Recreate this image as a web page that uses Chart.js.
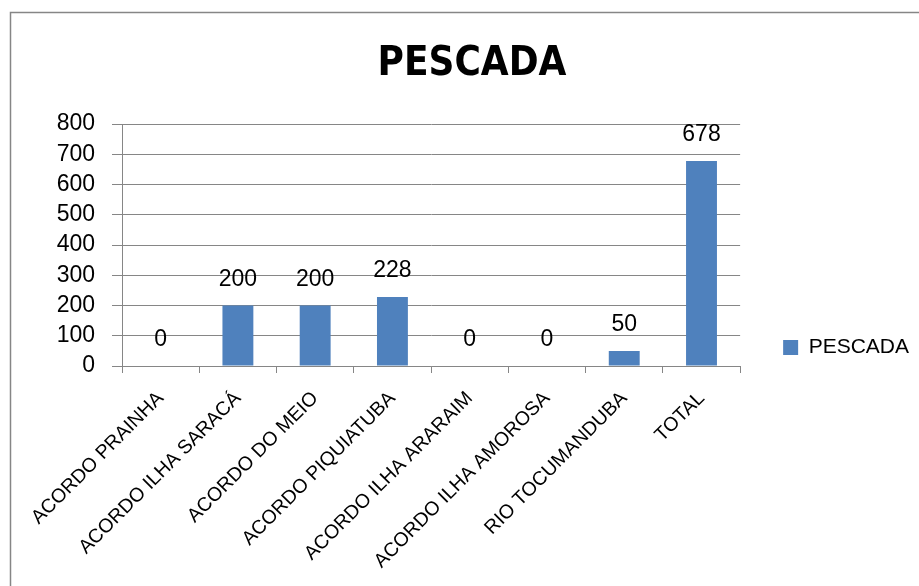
<!DOCTYPE html>
<html>
<head>
<meta charset="utf-8">
<script src="https://cdn.jsdelivr.net/npm/chart.js@4"></script>
<style>
  html, body { margin: 0; padding: 0; background: #fff; overflow: hidden; }
  #wrap { width: 919px; height: 586px; }
</style>
</head>
<body>
<div id="wrap"><canvas id="chart" width="919" height="586"></canvas></div>
<script>
// data
const categories = [
    "ACORDO PRAINHA",
    "ACORDO ILHA SARACÁ",
    "ACORDO DO MEIO",
    "ACORDO PIQUIATUBA",
    "ACORDO ILHA ARARAIM",
    "ACORDO ILHA AMOROSA",
    "RIO TOCUMANDUBA",
    "TOTAL"
];
const pescada = [0, 200, 200, 228, 0, 0, 50, 678];
const seriesName = "PESCADA";
const yTicks = [0, 100, 200, 300, 400, 500, 600, 700, 800];

const gridGray = "#868686";
const barBlue = "#4F81BD";
const font = "'Liberation Sans', Arial, sans-serif";

// outer frame like the excel chart border
const framePlugin = {
    id: "frame",
    beforeDraw(chart) {
        const ctx = chart.ctx;
        ctx.save();
        ctx.fillStyle = "#fff";
        ctx.fillRect(0, 0, chart.width, chart.height);
        ctx.strokeStyle = gridGray;
        ctx.lineWidth = 1.5;
        ctx.strokeRect(10.5, 12.5, chart.width + 20, chart.height + 20);
        ctx.restore();
    }
};

// value labels above the bars
const valueLabels = {
    id: "valueLabels",
    afterDatasetsDraw(chart) {
        const ctx = chart.ctx;
        const meta = chart.getDatasetMeta(0);
        ctx.save();
        ctx.font = "23px " + font;
        ctx.fillStyle = "#000";
        ctx.textAlign = "center";
        ctx.textBaseline = "middle";
        meta.data.forEach((bar, i) => {
            ctx.fillText(String(pescada[i]), bar.x, bar.y - 26);
        });
        ctx.restore();
    }
};

new Chart(document.getElementById("chart"), {
    type: "bar",
    data: {
        labels: categories,
        datasets: [{
            label: seriesName,
            data: pescada,
            backgroundColor: barBlue,
            borderWidth: 0,
            barPercentage: 0.4,
            categoryPercentage: 1.0
        }]
    },
    options: {
        responsive: false,
        animation: false,
        layout: { padding: { left: 25, right: 0, top: 0, bottom: 0 } },
        plugins: {
            title: {
                display: true,
                text: "PESCADA",
                color: "#000",
                font: { family: "'DejaVu Sans Condensed', " + font, size: 40, weight: "bold", lineHeight: 1.2 },
                padding: { top: 41, bottom: 35 }
            },
            legend: {
                position: "right",
                align: "end",
                fullSize: false,
                labels: {
                    color: "#000",
                    font: { family: font, size: 21 },
                    boxWidth: 15,
                    boxHeight: 15,
                    padding: 8
                }
            },
            tooltip: { enabled: false }
        },
        scales: {
            x: {
                grid: {
                    drawOnChartArea: false,
                    drawTicks: true,
                    tickLength: 7,
                    color: gridGray,
                    offset: true
                },
                border: { color: gridGray, width: 1 },
                ticks: {
                    color: "#000",
                    font: { family: font, size: 19.5 },
                    minRotation: 45,
                    maxRotation: 45,
                    autoSkip: false,
                    padding: 14
                },
                afterFit(s) { s.height = 220; }
            },
            y: {
                min: 0,
                max: 800,
                afterBuildTicks(s) { s.ticks = yTicks.map(v => ({ value: v })); },
                grid: { color: gridGray, tickLength: 10 },
                border: { color: gridGray, width: 1 },
                ticks: {
                    color: "#000",
                    font: { family: font, size: 23 },
                    padding: 17,
                    autoSkip: false,
                    stepSize: 100
                },
                afterFit(s) { s.width = 97; }
            },
            // spacer between plot and legend
            gap: {
                position: "right",
                display: true,
                grid: { display: false },
                border: { display: false },
                ticks: { display: false },
                afterFit(s) { s.width = 35; }
            }
        }
    },
    plugins: [framePlugin, valueLabels]
});
</script>
</body>
</html>
